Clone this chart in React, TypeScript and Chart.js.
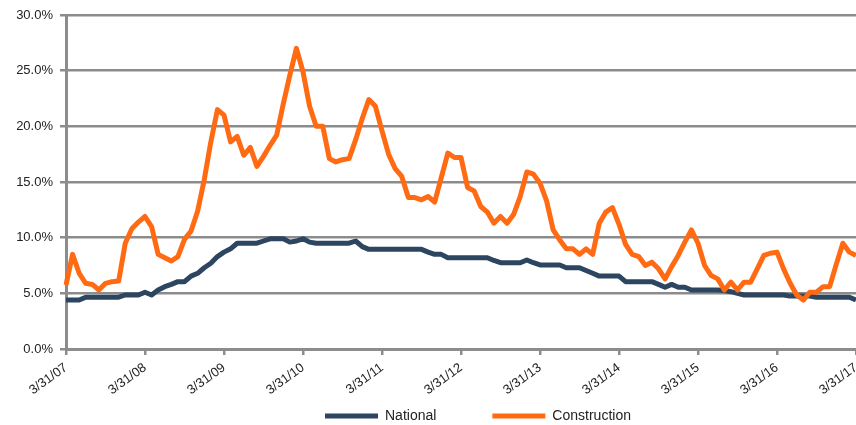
import React, { useEffect, useRef } from "react";
import { Chart, registerables } from "chart.js";

Chart.register(...registerables);

// Monthly categories, month-end dates from 3/31/07 to 3/31/17
const categories: string[] = [];
for (let k = 0; k < 121; k++) {
  const m = (2 + k) % 12;
  const y = 2007 + Math.floor((2 + k) / 12);
  const last = new Date(y, m + 1, 0).getDate();
  categories.push(`${m + 1}/${last}/${String(y % 100).padStart(2, "0")}`);
}

const yearTickLabels = [
  "3/31/07", "3/31/08", "3/31/09", "3/31/10", "3/31/11", "3/31/12",
  "3/31/13", "3/31/14", "3/31/15", "3/31/16", "3/31/17",
];

const yTickValues = [0, 5, 10, 15, 20, 25, 30];

const national = [
  4.4, 4.4, 4.4, 4.65, 4.65, 4.65, 4.65, 4.65, 4.65, 4.85, 4.85, 4.85,
  5.1, 4.85, 5.3, 5.6, 5.8, 6.05, 6.05, 6.55, 6.8, 7.3, 7.7, 8.3,
  8.7, 9.0, 9.5, 9.5, 9.5, 9.5, 9.7, 9.9, 9.9, 9.9, 9.6, 9.7,
  9.9, 9.6, 9.5, 9.5, 9.5, 9.5, 9.5, 9.5, 9.7, 9.2, 8.95, 8.95,
  8.95, 8.95, 8.95, 8.95, 8.95, 8.95, 8.95, 8.7, 8.5, 8.5, 8.2, 8.2,
  8.2, 8.2, 8.2, 8.2, 8.2, 7.95, 7.75, 7.75, 7.75, 7.75, 8.0, 7.75,
  7.55, 7.55, 7.55, 7.55, 7.3, 7.3, 7.3, 7.05, 6.8, 6.55, 6.55, 6.55,
  6.55, 6.05, 6.05, 6.05, 6.05, 6.05, 5.8, 5.55, 5.8, 5.55, 5.55, 5.3,
  5.3, 5.3, 5.3, 5.3, 5.25, 5.15, 5.0, 4.85, 4.85, 4.85, 4.85, 4.85,
  4.85, 4.85, 4.75, 4.75, 4.75, 4.75, 4.65, 4.65, 4.65, 4.65, 4.65, 4.65,
  4.4,
];

const construction = [
  5.75, 8.5, 6.8, 5.9, 5.8, 5.3, 5.9, 6.05, 6.1, 9.5, 10.8, 11.4,
  11.9, 11.0, 8.5, 8.2, 7.9, 8.3, 9.85, 10.6, 12.4, 15.2, 18.6, 21.5,
  21.0, 18.6, 19.1, 17.4, 18.1, 16.4, 17.3, 18.3, 19.2, 22.0, 24.6, 27.0,
  24.9, 21.8, 20.0, 20.0, 17.1, 16.8, 17.0, 17.1, 18.8, 20.7, 22.4, 21.8,
  19.6, 17.5, 16.2, 15.5, 13.6, 13.6, 13.4, 13.7, 13.2, 15.4, 17.6, 17.2,
  17.2, 14.5, 14.2, 12.8, 12.3, 11.3, 11.9, 11.3, 12.1, 13.7, 15.9, 15.7,
  14.9, 13.3, 10.7, 9.8, 9.0, 9.0, 8.5, 9.0, 8.5, 11.3, 12.3, 12.7,
  11.2, 9.4, 8.5, 8.3, 7.5, 7.8, 7.2, 6.3, 7.4, 8.4, 9.6, 10.7,
  9.5, 7.5, 6.6, 6.3, 5.3, 6.0, 5.3, 6.0, 6.0, 7.2, 8.4, 8.6,
  8.7, 7.2, 5.9, 4.85, 4.4, 5.1, 5.1, 5.6, 5.6, 7.6, 9.5, 8.7,
  8.4,
];

const FONT = "'Liberation Sans', Arial, Helvetica, sans-serif";
const GRID = "#8c8c8c";
const NAVY = "#2c4560";
const ORANGE = "#ff6a13";
const LEGEND_X = 325;
const LEGEND_Y = 416;

const legendPlacer = {
  id: "legendPlacer",
  afterLayout(chart: any) {
    const l = chart.legend;
    if (!l || !l.lineWidths) return;
    const pad = l.options.labels.padding;
    const startX = (l.left + pad + l.right - l.lineWidths[0]) / 2;
    const dx = LEGEND_X - startX;
    const itemH = Math.max(l.options.labels.font.size || 14, l.options.labels.boxHeight || 0);
    const newTop = LEGEND_Y - pad - itemH / 2;
    l.left += dx;
    l.right += dx;
    l.top = newTop;
    l.bottom = newTop + pad + itemH + 20;
    l.height = l.bottom - l.top;
  },
};

export default function App() {
  const ref = useRef<HTMLCanvasElement | null>(null);

  useEffect(() => {
    if (!ref.current) return;
    const chart = new Chart(ref.current, {
      type: "line",
      data: {
        labels: categories,
        datasets: [
          {
            label: "National",
            data: national,
            borderColor: NAVY,
            backgroundColor: NAVY,
            borderWidth: 5,
            pointRadius: 0,
            tension: 0,
            borderJoinStyle: "round",
            order: 1,
          },
          {
            label: "Construction",
            data: construction,
            borderColor: ORANGE,
            backgroundColor: ORANGE,
            borderWidth: 5,
            pointRadius: 0,
            tension: 0,
            borderJoinStyle: "round",
            order: 0,
          },
        ],
      },
      options: {
        animation: false,
        responsive: false,
        devicePixelRatio: 1,
        events: [],
        layout: { padding: { left: 0, right: 4, top: 15, bottom: 0 } },
        plugins: {
          tooltip: { enabled: false },
          legend: {
            position: "bottom",
            maxHeight: 30,
            labels: {
              boxWidth: 53,
              boxHeight: 5,
              padding: 56,
              color: "#222",
              font: { family: FONT, size: 14 },
              generateLabels: (c: any) =>
                c.data.datasets.map((ds: any, i: number) => ({
                  text: ds.label,
                  fillStyle: ds.borderColor,
                  strokeStyle: ds.borderColor,
                  lineWidth: 0,
                  hidden: false,
                  datasetIndex: i,
                  fontColor: "#222",
                })),
            },
          },
        },
        scales: {
          x: {
            type: "category",
            offset: false,
            grid: {
              display: true,
              drawOnChartArea: false,
              drawTicks: true,
              tickLength: 6,
              lineWidth: 2.5,
              color: (c: any) => (c.index % 12 === 0 ? GRID : "rgba(0,0,0,0)"),
            },
            border: { display: true, color: GRID, width: 3 },
            ticks: {
              autoSkip: false,
              maxRotation: 36,
              minRotation: 36,
              padding: 5,
              color: "#222",
              font: { family: FONT, size: 13 },
              callback: (_v: any, i: number) => (i % 12 === 0 ? yearTickLabels[i / 12] : ""),
            },
            afterFit: (s: any) => {
              s.paddingRight = 0;
              s.paddingLeft = 0;
              s.height = 46;
            },
          },
          y: {
            min: yTickValues[0],
            max: yTickValues[yTickValues.length - 1],
            ticks: {
              stepSize: 5,
              padding: 7,
              color: "#222",
              font: { family: FONT, size: 13 },
              callback: (v: any) => Number(v).toFixed(1) + "%",
            },
            grid: { color: GRID, lineWidth: 2.5, tickLength: 6, drawTicks: true },
            border: { display: true, color: GRID, width: 3 },
            afterFit: (s: any) => {
              s.width = 66;
              s.paddingTop = 0;
              s.paddingBottom = 0;
            },
          },
        },
      } as any,
      plugins: [legendPlacer],
    });
    return () => chart.destroy();
  }, []);

  return (
    <div
      style={{
        position: "fixed",
        left: 0,
        top: 0,
        width: 856,
        height: 425,
        overflow: "hidden",
        background: "#fff",
      }}
    >
      <canvas ref={ref} width={860} height={425} style={{ display: "block" }} />
    </div>
  );
}
